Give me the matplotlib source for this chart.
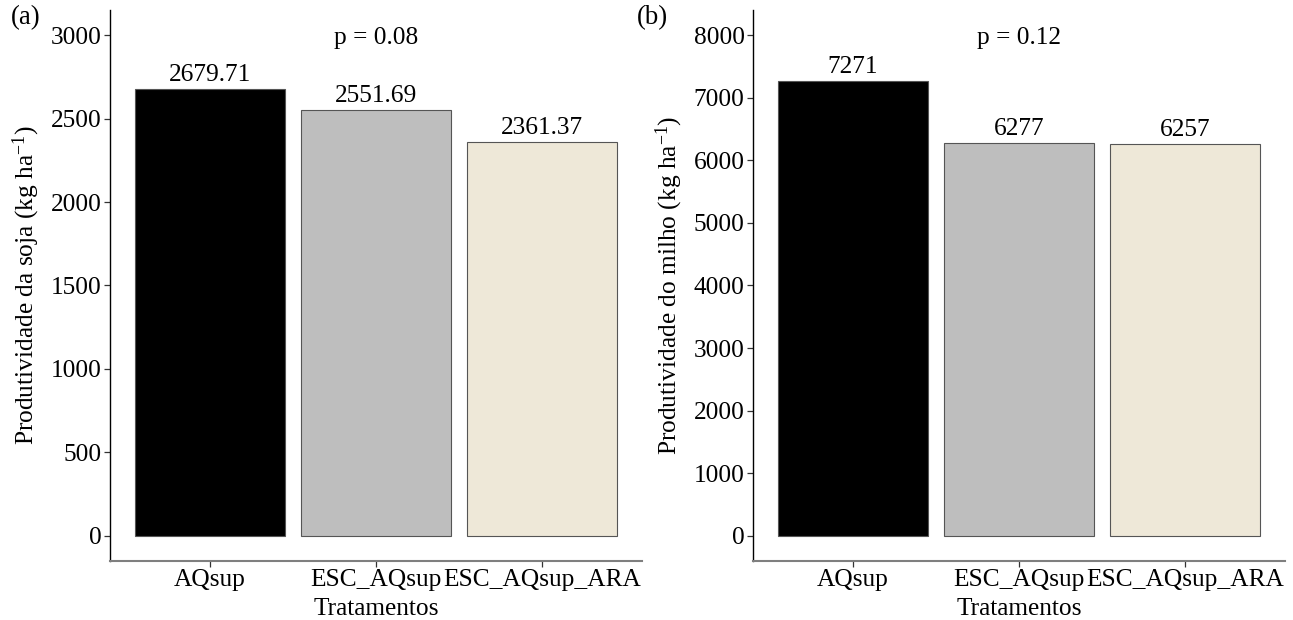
import matplotlib
matplotlib.use("Agg")
import matplotlib.pyplot as plt

plt.rcParams['font.family'] = ['Liberation Serif', 'DejaVu Serif']
plt.rcParams['mathtext.fontset'] = 'custom'
plt.rcParams['mathtext.rm'] = 'Liberation Serif'
plt.rcParams['mathtext.it'] = 'Liberation Serif:italic'
plt.rcParams['mathtext.default'] = 'regular'

categories = ["AQsup", "ESC_AQsup", "ESC_AQsup_ARA"]
soja = [2679.71, 2551.69, 2361.37]
soja_labels = ["2679.71", "2551.69", "2361.37"]
milho = [7271, 6277, 6257]
milho_labels = ["7271", "6277", "6257"]
colors = ["#000000", "#BEBEBE", "#EEE8D8"]
panels = [
    dict(tag="(a)", vals=soja, labels=soja_labels, p="p = 0.08", ptxt_y=3000,
         ylabel="Produtividade da soja (kg ha$^{-1}$)", ylim=(-150, 3150),
         yticks=[0, 500, 1000, 1500, 2000, 2500, 3000]),
    dict(tag="(b)", vals=milho, labels=milho_labels, p="p = 0.12", ptxt_y=8000,
         ylabel="Produtividade do milho (kg ha$^{-1}$)", ylim=(-400, 8400),
         yticks=[0, 1000, 2000, 3000, 4000, 5000, 6000, 7000, 8000]),
]

W, H = 1293, 620
fig = plt.figure(figsize=(W / 100, H / 100), dpi=100)
lefts = [110, 753]
tag_x = [26, 652]
fs = 18.3
for left, tx, pn in zip(lefts, tag_x, panels):
    ax = fig.add_axes([left / W, 1 - 561 / H, 532 / W, 551 / H])
    x = list(range(1, len(categories) + 1))
    ax.bar(x, pn["vals"], width=0.9, color=colors, edgecolor="#555555", linewidth=0.8)
    for xi, v, lab in zip(x, pn["vals"], pn["labels"]):
        ax.annotate(lab, (xi, v), xytext=(0, 2), textcoords="offset points",
                    ha="center", va="bottom", fontsize=fs)
    ax.annotate(pn["p"], (2, pn["ptxt_y"]), xytext=(0, -2), textcoords="offset points",
                ha="center", va="center", fontsize=fs)
    ax.set_xlim(0.4, 3.6)
    ax.set_ylim(*pn["ylim"])
    ax.set_xticks(x)
    ax.set_xticklabels(categories, fontsize=fs)
    ax.set_yticks(pn["yticks"])
    ax.set_yticklabels([str(t) for t in pn["yticks"]], fontsize=fs)
    ax.set_xlabel("Tratamentos", fontsize=fs, labelpad=4.5)
    ax.set_ylabel(pn["ylabel"], fontsize=fs, labelpad=6)
    for s in ["top", "right"]:
        ax.spines[s].set_visible(False)
    ax.spines["left"].set_color("black")
    ax.spines["bottom"].set_color("#7F7F7F")
    ax.spines["left"].set_linewidth(1.0)
    ax.spines["bottom"].set_linewidth(1.5)
    ax.tick_params(axis="both", length=4, width=0.9, color="#333333", pad=2)
    fig.text(tx / W, 1 - 18 / H, pn["tag"], ha="center", va="center", fontsize=fs + 1)

fig.savefig("out.png", dpi=100)
